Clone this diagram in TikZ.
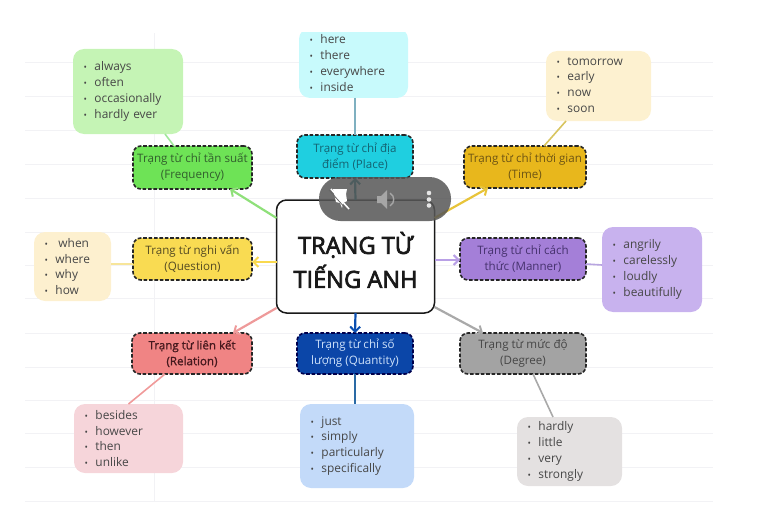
\documentclass[tikz,border=0pt]{standalone}
\usepackage{fontspec}
\setmainfont{Open Sans}
\newfontfamily\titlefont[FakeBold=3]{Open Sans}
\newfontfamily\medfont[FakeBold=1.0]{Open Sans}
\usetikzlibrary{arrows.meta}
\definecolor{gridc}{HTML}{F2F2F5}
\newcommand{\bl}[1]{{\fontsize{9}{9}\selectfont\textbullet}\hspace{7.6pt}#1}
\tikzset{
  x=1pt,y=-1pt,
  hubbox/.style={draw=black!90,line width=1.5pt,fill=white,rounded corners=10pt,minimum width=158pt,minimum height=113pt,align=center,inner sep=0pt,outer sep=0pt,font=\titlefont\fontsize{23.6}{34}\selectfont,text=black!90},
  catbox/.style={draw=black!85,line width=1.6pt,dash pattern=on 3.6pt off 1.8pt,rounded corners=8pt,align=center,inner sep=0pt,outer sep=0pt,font=\fontsize{11.6}{15.8}\selectfont},
  leafbox/.style={rounded corners=11pt,align=left,inner xsep=10.5pt,inner ysep=0pt,outer sep=0pt,font=\fontsize{11.9}{15.9}\selectfont,text=black!72,anchor=center},
  tiparrow/.style={-{Straight Barb[length=5pt,width=10pt,line width=2pt]},line width=2.2pt},
  leafline/.style={line width=1.6pt},
  gridline/.style={gridc,line width=1pt},
}
\begin{document}
\begin{tikzpicture}
\useasboundingbox (0,0) rectangle (767,516);
% ruled paper
\foreach \yy in {63,97,130,164,198,232,265,298,333,367,400,433,467,501}
  \draw[gridline] (25,\yy) -- (713,\yy);
\draw[gridline] (154,33) -- (154,501);

% central node and category nodes
\node[hubbox] (hub) at (355.5,256.5) {\rule{0pt}{29pt}TRẠNG TỪ\\TIẾNG ANH};

\node[catbox,fill={rgb,255:red,110;green,227;blue,86},text={rgb,255:red,50;green,95;blue,45},minimum width=119pt,minimum height=43pt] (freq) at (192.5,167.5) {Trạng từ chỉ tần suất\\(Frequency)};
\node[catbox,fill={rgb,255:red,249;green,219;blue,82},text={rgb,255:red,85;green,75;blue,35},minimum width=119pt,minimum height=42pt] (ques) at (192.5,259) {Trạng từ nghi vấn\\(Question)};
\node[catbox,fill={rgb,255:red,31;green,207;blue,224},text={rgb,255:red,20;green,100;blue,115},minimum width=116pt,minimum height=43pt] (place) at (355,156.5) {Trạng từ chỉ địa\\điểm (Place)};
\node[catbox,fill={rgb,255:red,232;green,183;blue,28},text={rgb,255:red,110;green,85;blue,20},minimum width=122pt,minimum height=42pt] (time) at (525,167) {Trạng từ chỉ thời gian\\(Time)};
\node[catbox,fill={rgb,255:red,164;green,127;blue,216},text={rgb,255:red,70;green,50;blue,110},minimum width=126pt,minimum height=42pt] (manner) at (523,259) {Trạng từ chỉ cách\\thức (Manner)};
\node[catbox,fill={rgb,255:red,240;green,132;blue,132},text={rgb,255:red,70;green,25;blue,30},font=\medfont\fontsize{11.6}{15.8}\selectfont,minimum width=120pt,minimum height=41pt] (rel) at (192,353.5) {Trạng từ liên kết\\(Relation)};
\node[catbox,draw=black!70!blue,fill={rgb,255:red,11;green,70;blue,168},text={rgb,255:red,205;green,225;blue,250},minimum width=116pt,minimum height=41pt] (quant) at (355,353.5) {Trạng từ chỉ số\\lượng (Quantity)};
\node[catbox,fill={rgb,255:red,163;green,163;blue,163},text={rgb,255:red,70;green,70;blue,70},minimum width=126pt,minimum height=41pt] (deg) at (523,353.5) {Trạng từ mức độ\\(Degree)};

% leaf nodes
\node[leafbox,fill={rgb,255:red,197;green,244;blue,181},text width=89pt,minimum height=85pt] (lfreq) at (128,91.5) {\bl{always}\\\bl{often}\\\bl{occasionally}\\\bl{hardly ever}};
\node[leafbox,fill={rgb,255:red,253;green,240;blue,207},text width=56pt,minimum height=69pt] (lques) at (72.5,266.5) {\bl{\hspace{3pt}when}\\\bl{where}\\\bl{why}\\\bl{how}};
\begin{scope}
\clip (280,33) rectangle (430,110);
\node[leafbox,fill={rgb,255:red,200;green,250;blue,252},text width=88pt,minimum height=70pt] (lplace) at (353.5,63) {\bl{here}\\\bl{there}\\\bl{everywhere}\\\bl{inside}};
\end{scope}
\node[leafbox,fill={rgb,255:red,253;green,241;blue,208},text width=84pt,minimum height=70pt] (ltime) at (598.5,86) {\raisebox{2pt}{\bl{tomorrow}}\\\raisebox{2pt}{\bl{early}}\\\raisebox{2pt}{\bl{now}}\\\raisebox{2pt}{\bl{soon}}};
\node[leafbox,fill={rgb,255:red,200;green,178;blue,238},text width=79pt,minimum height=85pt] (lmanner) at (652,269.5) {\raisebox{2pt}{\bl{angrily}}\\\raisebox{2pt}{\bl{carelessly}}\\\raisebox{2pt}{\bl{loudly}}\\\raisebox{2pt}{\bl{beautifully}}};
\node[leafbox,fill={rgb,255:red,246;green,213;blue,218},text width=88pt,minimum height=69pt] (lrel) at (128.5,438.5) {\bl{besides}\\\bl{however}\\\bl{then}\\\bl{unlike}};
\node[leafbox,fill={rgb,255:red,195;green,218;blue,249},text width=93pt,minimum height=84pt] (lquant) at (357,446) {\bl{just}\\\bl{simply}\\\bl{particularly}\\\bl{specifically}};
\node[leafbox,fill={rgb,255:red,228;green,225;blue,225},text width=84pt,minimum height=69pt] (ldeg) at (569.5,451.5) {\raisebox{1pt}{\bl{hardly}}\\\raisebox{1pt}{\bl{little}}\\\raisebox{1pt}{\bl{very}}\\\raisebox{1pt}{\bl{strongly}}};

% hub connectors
\draw[tiparrow,draw={rgb,255:red,143;green,224;blue,122}] ([yshift=38.5pt]hub.west) -- ([xshift=37.5pt]freq.south);
\draw[tiparrow,draw={rgb,255:red,249;green,217;blue,79}] ([yshift=-5.5pt]hub.west) -- ([yshift=-3pt]ques.east);
\draw[tiparrow,draw={rgb,255:red,21;green,127;blue,138}] (hub.north) -- (place.south);
\draw[tiparrow,draw={rgb,255:red,232;green,196;blue,58}] ([yshift=38.5pt]hub.east) -- ([xshift=-37pt]time.south);
\draw[tiparrow,draw={rgb,255:red,185;green,160;blue,230}] ([yshift=-3.5pt]hub.east) -- ([yshift=-1pt]manner.west);
\draw[tiparrow,draw={rgb,255:red,238;green,154;blue,154}] ([yshift=-51.5pt]hub.west) -- ([xshift=41pt]rel.north);
\draw[tiparrow,draw={rgb,255:red,11;green,79;blue,176}] (hub.south) -- (quant.north);
\draw[tiparrow,draw={rgb,255:red,169;green,169;blue,169}] ([yshift=-50.5pt]hub.east) -- ([xshift=-40pt]deg.north);

% leaf connectors
\draw[leafline,draw={rgb,255:red,160;green,232;blue,154}] ([xshift=37pt]lfreq.south) -- ([xshift=-18.5pt]freq.north);
\draw[leafline,draw={rgb,255:red,247;green,229;blue,154}] ([yshift=2.5pt]lques.east) -- ([yshift=-5pt]ques.west);
\draw[leafline,draw={rgb,255:red,127;green,176;blue,192}] ([xshift=1.5pt]lplace.south) -- (place.north);
\draw[leafline,draw={rgb,255:red,216;green,197;blue,96}] ([xshift=-32.5pt]ltime.south) -- ([xshift=19pt]time.north);
\draw[leafline,draw={rgb,255:red,184;green,165;blue,224}] ([yshift=4.5pt]lmanner.west) -- ([yshift=-5pt]manner.east);
\draw[leafline,draw={rgb,255:red,240;green,154;blue,154}] ([xshift=-27pt]rel.south) -- (lrel.north);
\draw[leafline,draw={rgb,255:red,42;green,106;blue,165}] (quant.south) -- ([xshift=-2pt]lquant.north);
\draw[leafline,draw={rgb,255:red,169;green,169;blue,169}] ([xshift=10pt]deg.south) -- ([xshift=-16.5pt]ldeg.north);

% video-player overlay
\fill[rounded corners=21.5pt,fill={rgb,255:red,87;green,87;blue,87},fill opacity=.86] (319,177) rectangle (451,221);
\fill[white] (333,189) -- (347,189) -- (346,194) -- (347,201) -- (343,203) -- (342,208) -- (340,203) -- (336,202) -- cycle;
\draw[white,line width=1.5pt] (331,189) -- (349,209);
\draw[black!60,line width=.8pt] (329,190) -- (347,210);
\fill[black!35] (377,196) -- (381,196) -- (387,190) -- (387,209) -- (381,203) -- (377,203) -- cycle;
\draw[black!35,line width=1.4pt] (390,193) .. controls (395,196) and (395,203) .. (390,206);
\fill[white!90!black] (429,193) circle (2.3pt) (429,199.5) circle (2.3pt) (429,205.5) circle (2.3pt);
\end{tikzpicture}
\end{document}
